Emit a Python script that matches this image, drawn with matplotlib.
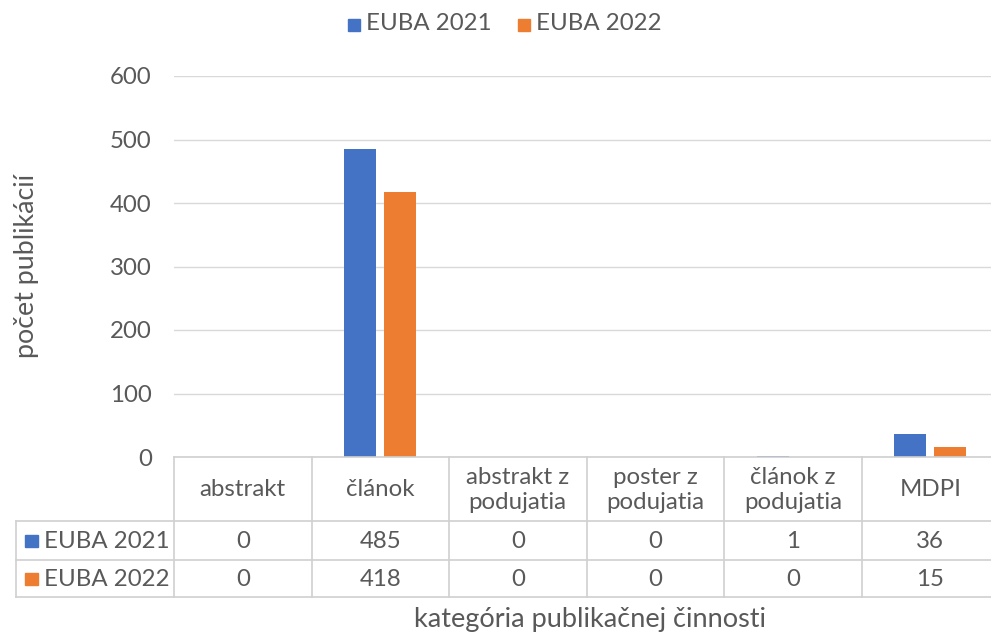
import matplotlib.pyplot as plt
import matplotlib.transforms as mtransforms
from matplotlib.lines import Line2D
from matplotlib.patches import Rectangle
import numpy as np

plt.rcParams['font.family'] = ['Lato', 'DejaVu Sans']

# data
kategorie = ['abstrakt', 'článok', 'abstrakt z\npodujatia', 'poster z\npodujatia',
             'článok z\npodujatia', 'MDPI']
serie = ['EUBA 2021', 'EUBA 2022']
euba_2021 = [0, 485, 0, 0, 1, 36]
euba_2022 = [0, 418, 0, 0, 0, 15]
yticks = [0, 100, 200, 300, 400, 500, 600]

modra = '#4472C4'
oranzova = '#ED7D31'
text_c = '#595959'
mriezka = '#D9D9D9'
fs = 17.3

W, H = 991, 634
fig = plt.figure(figsize=(W / 100, H / 100), dpi=100)

def fx(px):
    return px / W

def fy(py):
    return 1 - py / H

ax = fig.add_axes([fx(174), fy(457), fx(999) - fx(174), fy(76) - fy(457)])

x = np.arange(len(kategorie))
sirka = 0.233
posun = 0.146
ax.bar(x - posun, euba_2021, sirka, color=modra, label=serie[0])
ax.bar(x + posun, euba_2022, sirka, color=oranzova, label=serie[1])

ax.set_xlim(-0.5, len(kategorie) - 0.5)
ax.set_ylim(0, 600)
ax.set_yticks(yticks)
ax.set_xticks([])
ax.yaxis.grid(True, color=mriezka, linewidth=1)
ax.set_axisbelow(True)
for s in ['top', 'right', 'left', 'bottom']:
    ax.spines[s].set_visible(False)
ax.tick_params(axis='y', length=0, pad=16, labelsize=fs, labelcolor=text_c)

# tabulka s udajmi pod grafom
lc = '#D0D0D0'
def hline(y, x0, x1):
    fig.add_artist(Line2D([fx(x0), fx(x1)], [fy(y), fy(y)], color=lc, lw=1.2))

def vline(xp, y0, y1):
    fig.add_artist(Line2D([fx(xp), fx(xp)], [fy(y0), fy(y1)], color=lc, lw=1.2))

hline(457, 174, 1000)
hline(521, 16, 1000)
hline(560, 16, 1000)
hline(597, 16, 1000)
vline(16, 521, 597)
hranice = ax.transData.transform([(b, 0) for b in np.arange(len(kategorie) + 1) - 0.5])[:, 0]
for b in hranice:
    vline(b, 457, 597)

trans = mtransforms.blended_transform_factory(ax.transData, fig.transFigure)
for i, k in enumerate(kategorie):
    ax.text(i, fy(490), k, transform=trans, ha='center', va='center',
            fontsize=fs, color=text_c, linespacing=1.2, clip_on=False)
    ax.text(i, fy(541), str(euba_2021[i]), transform=trans, ha='center', va='center',
            fontsize=fs, color=text_c, clip_on=False)
    ax.text(i, fy(579), str(euba_2022[i]), transform=trans, ha='center', va='center',
            fontsize=fs, color=text_c, clip_on=False)

for nazov, farba, yy in [(serie[0], modra, 541), (serie[1], oranzova, 579)]:
    fig.add_artist(Rectangle((fx(25), fy(yy + 6)), fx(13), fy(yy - 6) - fy(yy + 6),
                             color=farba, transform=fig.transFigure))
    fig.text(fx(44), fy(yy), nazov, ha='left', va='center', fontsize=fs, color=text_c)

# legenda hore
for nazov, farba, xp in [(serie[0], modra, 348), (serie[1], oranzova, 518)]:
    fig.add_artist(Rectangle((fx(xp), fy(31)), fx(12), fy(19) - fy(31),
                             color=farba, transform=fig.transFigure))
    fig.text(fx(xp + 18), fy(24), nazov, ha='left', va='center', fontsize=fs, color=text_c)

fig.text(fx(590), fy(619), 'kategória publikačnej činnosti', ha='center', va='center',
         fontsize=19.5, color=text_c)
fig.text(fx(27), fy(266), 'počet publikácií', ha='center', va='center', rotation=90,
         fontsize=19.3, color=text_c)

fig.savefig('out.png', dpi=100)
